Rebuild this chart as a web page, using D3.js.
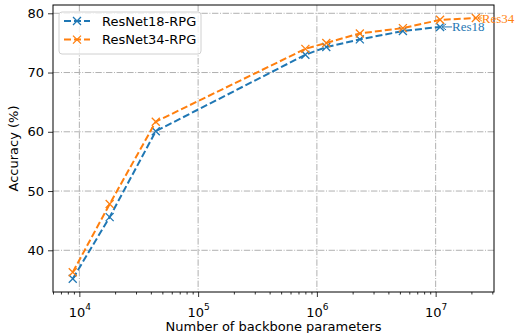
<!DOCTYPE html>
<html>
<head>
<meta charset="utf-8">
<script src="https://cdn.jsdelivr.net/npm/d3@7"></script>
<style>
  body { margin: 0; background: #fff; }
  svg { display: block; font-family: "DejaVu Sans", sans-serif; }
</style>
</head>
<body>
<div id="chart"></div>
<script>
// Chart data
var params18 = [8.8e3, 1.8e4, 4.4e4, 8.0e5, 1.2e6, 2.3e6, 5.3e6, 1.09e7];
var acc18 = [35.2, 45.6, 60.1, 73.0, 74.3, 75.6, 77.0, 77.7];
var params34 = [8.8e3, 1.8e4, 4.4e4, 8.0e5, 1.2e6, 2.3e6, 5.3e6, 1.09e7, 2.18e7];
var acc34 = [36.3, 47.8, 61.7, 74.0, 75.0, 76.6, 77.5, 78.9, 79.2];
var seriesNames = ["ResNet18-RPG", "ResNet34-RPG"];
var endLabels = ["Res18", "Res34"];
var yTicks = [40, 50, 60, 70, 80];
var xMajor = [1e4, 1e5, 1e6, 1e7];

var svgWidth = 520;
var svgHeight = 333;
var margin = { top: 5, right: 26, bottom: 41, left: 53 };
var width = svgWidth - margin.left - margin.right;
var height = svgHeight - margin.top - margin.bottom;

var colors = ["#1f77b4", "#ff7f0e"];
// gap between last point and its annotation text
var labelGap = [12, 6];

var svg = d3.select("#chart").append("svg")
  .attr("width", svgWidth)
  .attr("height", svgHeight);

var g = svg.append("g")
  .attr("transform", `translate(${margin.left}, ${margin.top})`);

var x = d3.scaleLog().domain([6000, 3.1e7]).range([0, width]);
var y = d3.scaleLinear().domain([32.96, 81.4]).range([height, 0]);

// grid
g.append("g").selectAll("line.vx")
  .data(xMajor).enter().append("line")
  .attr("x1", d => x(d)).attr("x2", d => x(d))
  .attr("y1", 0).attr("y2", height)
  .attr("stroke", "#b0b0b0").attr("stroke-width", 1)
  .attr("stroke-dasharray", "6.4,1.6,1,1.6");
g.append("g").selectAll("line.hy")
  .data(yTicks).enter().append("line")
  .attr("x1", 0).attr("x2", width)
  .attr("y1", d => y(d)).attr("y2", d => y(d))
  .attr("stroke", "#b0b0b0").attr("stroke-width", 1)
  .attr("stroke-dasharray", "6.4,1.6,1,1.6");

// minor x ticks
var minor = [];
for (var e = 3; e <= 7; e++) {
  for (var m = 2; m <= 9; m++) {
    var v = m * Math.pow(10, e);
    if (v >= 6000 && v <= 3.1e7) minor.push(v);
  }
}
g.append("g")
  .attr("transform", `translate(0, ${height})`)
  .call(d3.axisBottom(x).tickValues(minor).tickSize(2.5).tickFormat(""))
  .call(a => a.select(".domain").remove())
  .call(a => a.selectAll("line").attr("stroke", "#000").attr("stroke-width", 0.8));

// major x ticks
var xAxis = g.append("g")
  .attr("transform", `translate(0, ${height})`)
  .call(d3.axisBottom(x).tickValues(xMajor).tickSize(5).tickPadding(4).tickFormat(""));
xAxis.select(".domain").remove();
xAxis.selectAll("line").attr("stroke", "#000").attr("stroke-width", 0.8);
xAxis.selectAll("text").each(function(d) {
  var t = d3.select(this)
    .attr("font-size", 13)
    .attr("fill", "#000")
    .attr("font-family", "DejaVu Sans")
    .attr("dy", "1.2em");
  t.append("tspan").text("10");
  t.append("tspan").attr("font-size", 9).attr("dy", "-0.75em").text(Math.round(Math.log10(d)));
});

// y axis
var yAxis = g.append("g")
  .call(d3.axisLeft(y).tickValues(yTicks).tickSize(5).tickPadding(4));
yAxis.select(".domain").remove();
yAxis.selectAll("line").attr("stroke", "#000").attr("stroke-width", 0.8);
yAxis.selectAll("text").attr("font-size", 13).attr("fill", "#000")
  .attr("font-family", "DejaVu Sans");

// frame
g.append("rect")
  .attr("width", width).attr("height", height)
  .attr("fill", "none").attr("stroke", "#000").attr("stroke-width", 1);

// lines
var seriesX = [params18, params34];
var seriesY = [acc18, acc34];
var line = d3.line().x(d => x(d[0])).y(d => y(d[1]));

seriesX.forEach(function(xs, i) {
  var pts = xs.map((v, j) => [v, seriesY[i][j]]);
  g.append("path")
    .datum(pts)
    .attr("d", line)
    .attr("fill", "none")
    .attr("stroke", colors[i])
    .attr("stroke-width", 2)
    .attr("stroke-dasharray", "7,3");
  g.append("g").selectAll("path")
    .data(pts).enter().append("path")
    .attr("transform", d => `translate(${x(d[0])}, ${y(d[1])})`)
    .attr("d", "M-4,-4L4,4M-4,4L4,-4")
    .attr("stroke", colors[i])
    .attr("stroke-width", 1.3)
    .attr("fill", "none");

  // end annotation with arrow
  var last = pts[pts.length - 1];
  var px = x(last[0]), py = y(last[1]);
  var gap = labelGap[i];
  g.append("line")
    .attr("x1", px + 2).attr("y1", py)
    .attr("x2", px + gap).attr("y2", py)
    .attr("stroke", colors[i]).attr("stroke-width", 1);
  g.append("path")
    .attr("d", `M${px + 6},${py - 3}L${px + 2},${py}L${px + 6},${py + 3}`)
    .attr("stroke", colors[i]).attr("stroke-width", 1).attr("fill", "none");
  g.append("text")
    .attr("x", px + gap)
    .attr("y", py + 4.5)
    .attr("font-family", "Liberation Serif, Times New Roman, serif")
    .attr("font-size", 13)
    .attr("fill", colors[i])
    .text(endLabels[i]);
});

// legend
var legend = g.append("g").attr("transform", "translate(6, 7)");
legend.append("rect")
  .attr("width", 142).attr("height", 42)
  .attr("rx", 3)
  .attr("fill", "#fff").attr("fill-opacity", 0.8)
  .attr("stroke", "#d0d0d0").attr("stroke-width", 1);
seriesNames.forEach(function(name, i) {
  var ly = 9 + i * 18.6;
  legend.append("line")
    .attr("x1", 5).attr("x2", 31)
    .attr("y1", ly).attr("y2", ly)
    .attr("stroke", colors[i]).attr("stroke-width", 2)
    .attr("stroke-dasharray", "7,3");
  legend.append("path")
    .attr("transform", `translate(18, ${ly})`)
    .attr("d", "M-4,-4L4,4M-4,4L4,-4")
    .attr("stroke", colors[i]).attr("stroke-width", 1.3);
  legend.append("text")
    .attr("x", 43).attr("y", ly + 4.5)
    .attr("font-size", 13)
    .attr("fill", "#000")
    .text(name);
});

// axis labels
svg.append("text")
  .attr("transform", `translate(${margin.left + width / 2}, ${svgHeight - 2})`)
  .attr("text-anchor", "middle")
  .attr("font-size", 13)
  .text("Number of backbone parameters");

svg.append("text")
  .attr("transform", `translate(18, ${margin.top + height / 2}) rotate(-90)`)
  .attr("text-anchor", "middle")
  .attr("font-size", 13)
  .text("Accuracy (%)");
</script>
</body>
</html>
